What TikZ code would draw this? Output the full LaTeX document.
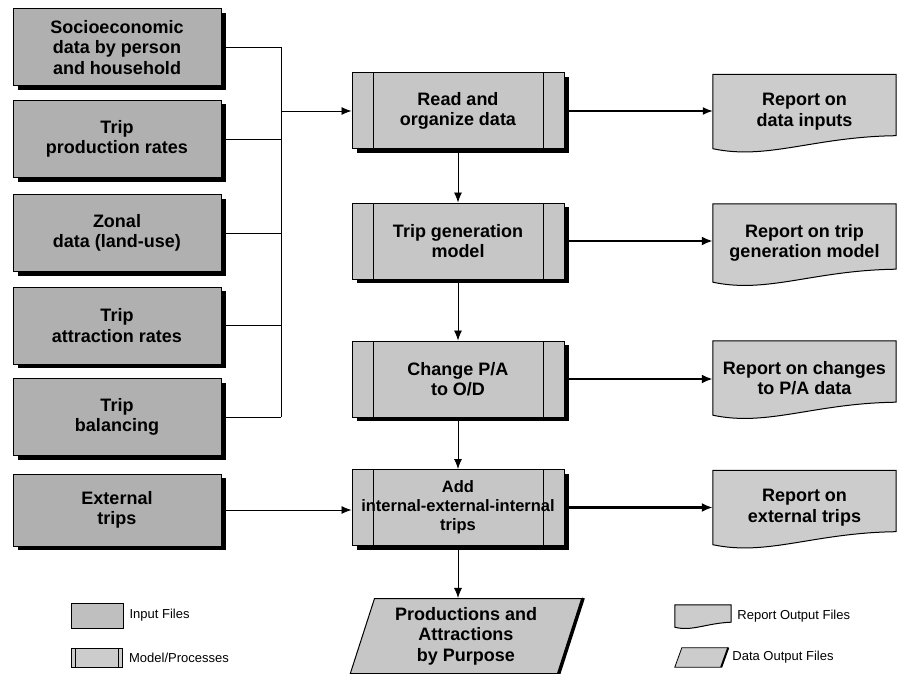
\documentclass[tikz,border=0pt]{standalone}
\usepackage{fontspec}
\setmainfont{Liberation Sans}
\usetikzlibrary{arrows.meta,shapes.geometric,shadows,backgrounds}
\tikzset{%
    shd/.style={drop shadow={shadow xshift=5pt, shadow yshift=-4pt, fill=black, opacity=1}},
    txt/.style={align=center, inner sep=0pt, font=\bfseries\fontsize{18}{20.5}\selectfont},
    inp/.style={txt, rectangle, draw, line width=1pt, fill=gray!62, shd, minimum width=208pt, minimum height=77pt},
    proc/.style={txt, rectangle, draw, line width=1pt, fill=gray!45, shd, minimum width=212pt, minimum height=76pt,
        path picture={\draw[line width=1pt] ([xshift=21pt]path picture bounding box.north west) -- ([xshift=21pt]path picture bounding box.south west);
                      \draw[line width=1pt] ([xshift=-21pt]path picture bounding box.north east) -- ([xshift=-21pt]path picture bounding box.south east);}},
    rep/.style={txt, rectangle, minimum width=183pt, minimum height=74pt},
    outp/.style={txt, trapezium, trapezium left angle=72, trapezium right angle=108, trapezium stretches=true,
        draw, line width=1pt, fill=gray!45, minimum width=232pt, minimum height=75pt},
    leg/.style={anchor=west, inner sep=0pt, font=\fontsize{13}{15}\selectfont},
    sec/.style={line width=0.8pt},
    seca/.style={line width=0.8pt, -{Latex[length=10pt,width=8pt]}},
    pra/.style={line width=2.8pt, -{Latex[length=11pt,width=9pt]}},
}
\newcommand{\docpath}[3]{% node name, rise of the lower right corner, width
    \draw[line width=1pt, fill=gray!40] (#1.north west) -- (#1.north east) -- ([yshift=#2]#1.south east)
        .. controls +(-0.45*#3,-1pt) and +(0.3*#3,-0.9*#2) .. (#1.south west) -- cycle;}
\begin{document}
\begin{tikzpicture}[x=1pt, y=-1pt]
    \useasboundingbox (0,0) rectangle (897,674);
    % input files
    \node[inp] (in1) at (117,47.5) {Socioeconomic\\data by person\\and household};
    \node[inp] (in2) at (117,139) {Trip\\production rates};
    \node[inp] (in3) at (117,233) {Zonal\\data (land-use)};
    \node[inp] (in4) at (117,325.5) {Trip\\attraction rates};
    \node[inp] (in5) at (117,417) {Trip\\balancing};
    \node[inp, minimum height=72pt] (in6) at (117,510) {External\\trips};
    % model steps
    \node[proc] (p1) at (458,111) {Read and\\organize data};
    \node[proc] (p2) at (458,241) {Trip generation\\model};
    \node[proc] (p3) at (458,379) {Change P/A\\to O/D};
    \node[proc, font=\bfseries\fontsize{16.5}{19}\selectfont] (p4) at (458,507.5) {Add\\internal-external-internal\\trips};
    \node[outp] (prod) at (466,636) {Productions and\\Attractions\\by Purpose};
    \draw[line width=3pt] ([xshift=1pt]prod.top right corner) -- ([xshift=1pt]prod.bottom right corner);
    % reports
    \node[rep] (r1) at (804.5,111.5) {Report on\\data inputs};
    \node[rep, minimum height=78pt] (r2) at (804.5,243) {Report on trip\\generation model};
    \node[rep] (r3) at (804.5,378) {Report on changes\\to P/A data};
    \node[rep] (r4) at (804.5,507.5) {Report on\\external trips};
    \begin{scope}[on background layer]
        \foreach \r in {r1,r2,r3,r4} {\docpath{\r}{13pt}{183pt}}
    \end{scope}
    % bus of the input files
    \coordinate (bus) at (281,0);
    \foreach \i in {in1,in2,in3,in4,in5} {\draw [sec] (\i.east) -- (\i.east -| bus);}
    \draw [sec] (in1.east -| bus) -- (in5.east -| bus);
    \draw [seca] (bus |- p1.west) -- (p1.west);
    \draw [seca] (in6.east) -- (in6.east -| p4.west);
    % down the model
    \draw [seca] (p1) -- (p2);
    \draw [seca] (p2) -- (p3);
    \draw [seca] (p3) -- (p4);
    \draw [seca] (p4.south) -- (p4.south |- prod.north);
    % to the reports
    \draw [line width=1.5pt, -{Latex[length=10pt,width=8pt]}] (p1.east) -- (p1.east -| r1.west);
    \draw [pra] (p2.east) -- (p2.east -| r2.west);
    \draw [pra] (p3.east) -- (p3.east -| r3.west);
    \draw [pra] (p4.east) -- (p4.east -| r4.west);
    % legend
    \node[draw, line width=0.8pt, fill=gray!50, minimum width=52pt, minimum height=25pt, inner sep=0pt] (lin) at (97,615.5) {};
    \node[leg] (tin) at ([xshift=6pt]lin.east) {Input Files};
    \node[draw, line width=0.8pt, fill=gray!40, minimum width=51pt, minimum height=19pt, inner sep=0pt,
        path picture={\draw[line width=0.8pt] ([xshift=4pt]path picture bounding box.north west) -- ([xshift=4pt]path picture bounding box.south west);
                      \draw[line width=0.8pt] ([xshift=-4pt]path picture bounding box.north east) -- ([xshift=-4pt]path picture bounding box.south east);}] (lmod) at (97,657.5) {};
    \node[leg] (tmod) at ([xshift=6pt]lmod.east) {Model/Processes};
    \node[minimum width=56pt, minimum height=22pt, inner sep=0pt] (lrep) at (703,616) {};
    \begin{scope}[on background layer]
        \docpath{lrep}{5pt}{56pt}
    \end{scope}
    \node[leg] (trep) at ([xshift=6pt]lrep.east) {Report Output Files};
    \node[minimum width=53pt, minimum height=19pt, inner sep=0pt] (ldat) at (701.5,657.5) {};
    \draw[line width=0.8pt, fill=gray!40] ([xshift=7pt]ldat.north west) -- (ldat.north east)
        -- ([xshift=-7pt]ldat.south east) -- (ldat.south west) -- cycle;
    \draw[line width=2pt] (ldat.north east) -- ([xshift=-7pt]ldat.south east);
    \node[leg] (tdat) at ([xshift=4pt]ldat.east) {Data Output Files};
\end{tikzpicture}
\end{document}
